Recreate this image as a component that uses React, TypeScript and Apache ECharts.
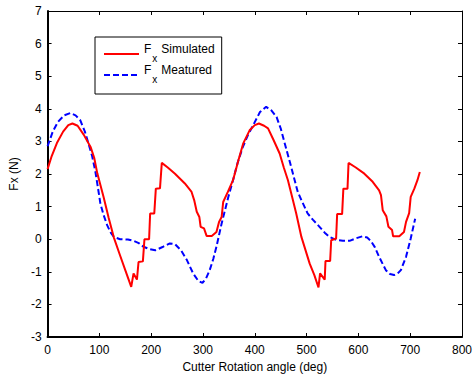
import React, { useEffect, useRef } from "react";
import * as echarts from "echarts";

const simX = [0, 8, 18, 30, 40, 48, 58, 70, 83, 90, 96, 108, 118, 128, 140, 150, 161.5, 166, 172.5, 175.6, 184, 187, 196, 198, 206, 209, 217, 220.5, 232, 246, 265, 278, 283, 288, 293, 295.5, 302, 307, 317, 326, 331, 336, 339, 348, 358, 368, 377.5, 390, 400, 408, 418, 425.6, 436, 448, 456, 464, 472, 480, 490, 506, 515, 523, 526, 535, 536.5, 545.5, 547.5, 557, 559, 568.6, 571, 579, 581, 595, 611.5, 627.6, 640, 643.6, 647, 654, 658, 665, 667, 679, 688, 692, 698, 701, 708, 714, 718.6];
const simY = [2.15, 2.55, 2.95, 3.3, 3.5, 3.55, 3.48, 3.2, 2.83, 2.5, 2.02, 1.3, 0.65, 0.05, -0.5, -0.95, -1.46, -1.05, -1.24, -0.7, -0.68, 0, 0, 0.79, 0.79, 1.55, 1.56, 2.34, 2.2, 2.01, 1.71, 1.45, 1.2, 0.84, 0.68, 0.38, 0.33, 0.1, 0.1, 0.22, 0.53, 0.68, 1.14, 1.45, 1.81, 2.4, 2.93, 3.34, 3.5, 3.55, 3.48, 3.4, 3.05, 2.63, 2.2, 1.81, 1.3, 0.79, 0.07, -0.75, -1.1, -1.48, -1.05, -1.24, -0.67, -0.67, -0.03, 0.02, 0.77, 0.77, 1.55, 1.55, 2.34, 2.2, 2.01, 1.76, 1.5, 1.35, 0.89, 0.7, 0.38, 0.28, 0.09, 0.09, 0.22, 0.53, 0.8, 1.3, 1.55, 1.81, 2.06];

const measX = [0, 10, 20, 32, 44, 54, 63, 72, 79, 86, 92, 97, 102, 108, 115, 122, 128, 140, 155, 166, 176, 185, 196, 208, 222, 236, 246, 258, 269, 281, 291, 299, 306, 313, 320, 326, 336, 349, 358, 367, 377, 387, 397, 410, 422, 432, 442, 450, 458, 468, 477, 483, 490, 502, 512, 525, 535, 544, 557, 570, 583, 596, 608, 617, 624, 632, 640, 653, 661, 669, 676, 682, 692, 701, 709.6];
const measY = [2.85, 3.3, 3.6, 3.8, 3.87, 3.8, 3.65, 3.3, 2.93, 2.55, 2.1, 1.6, 1.09, 0.75, 0.43, 0.2, 0.07, 0.0, -0.01, -0.05, -0.12, -0.23, -0.3, -0.34, -0.24, -0.13, -0.15, -0.35, -0.64, -1.05, -1.28, -1.34, -1.2, -0.95, -0.6, -0.23, 0.48, 1.3, 1.81, 2.35, 2.83, 3.2, 3.5, 3.9, 4.06, 3.95, 3.75, 3.4, 2.93, 2.35, 1.81, 1.45, 1.2, 0.79, 0.6, 0.38, 0.2, 0.07, -0.02, -0.05, -0.05, 0.03, 0.09, 0.05, -0.05, -0.25, -0.54, -0.95, -1.07, -1.1, -1.05, -0.95, -0.54, 0.02, 0.63];

const seriesNames = ["Fx Simulated", "Fx Meatured"];
const xTitle = "Cutter Rotation angle (deg)";
const yTitle = "Fx (N)";

const FONT = "'Liberation Sans', Arial, sans-serif";

export default function App() {
  const ref = useRef<HTMLDivElement>(null);
  useEffect(() => {
    if (!ref.current) return;
    const chart = echarts.init(ref.current, undefined, { renderer: "svg" });
    const pairs = (xs: number[], ys: number[]) => xs.map((x, i) => [x, ys[i]]);
    const axisCommon = {
      type: "value" as const,
      splitLine: { show: false },
      axisTick: { show: true, inside: true, length: 4, lineStyle: { color: "#000", width: 1 } },
      axisLabel: { color: "#000", fontSize: 12, fontFamily: FONT },
    };
    chart.setOption({
      animation: false,
      backgroundColor: "#fff",
      grid: { left: 47, right: 12, top: 11, bottom: 43, containLabel: false },
      legend: {
        data: seriesNames,
        orient: "vertical",
        left: 95,
        top: 37,
        padding: [6, 7, 10, 8],
        itemGap: 1,
        itemWidth: 35,
        itemHeight: 14,
        borderColor: "#000",
        borderWidth: 1,
        borderRadius: 0,
        backgroundColor: "#fff",
        itemStyle: { opacity: 0, borderWidth: 0 },
        formatter: (name: string) =>
          "{f|F}{s|x}{t|" + name.replace(/^Fx /, "") + "}",
        textStyle: {
          color: "#000",
          fontFamily: FONT,
          fontSize: 12,
          rich: {
            f: { fontSize: 12, lineHeight: 22, verticalAlign: "top", fontFamily: FONT, color: "#000" },
            s: { fontSize: 10, lineHeight: 10, verticalAlign: "top", padding: [10, 0, 0, 1], fontFamily: FONT, color: "#000" },
            t: { fontSize: 12, lineHeight: 22, verticalAlign: "top", padding: [0, 0, 0, 4], fontFamily: FONT, color: "#000" },
          },
        },
      },
      xAxis: [
        {
          ...axisCommon,
          min: 0,
          max: 800,
          interval: 100,
          position: "bottom",
          axisLine: { show: true, onZero: false, lineStyle: { color: "#000", width: 2 } },
          axisLabel: { ...axisCommon.axisLabel, margin: 7 },
          name: xTitle,
          nameLocation: "middle",
          nameGap: 22,
          nameTextStyle: { color: "#000", fontSize: 12, fontFamily: FONT },
        },
        {
          ...axisCommon,
          min: 0,
          max: 800,
          interval: 100,
          position: "top",
          axisLine: { show: true, onZero: false, lineStyle: { color: "#000", width: 1 } },
          axisLabel: { show: false },
        },
      ],
      yAxis: [
        {
          ...axisCommon,
          min: -3,
          max: 7,
          interval: 1,
          position: "left",
          axisLine: { show: true, onZero: false, lineStyle: { color: "#000", width: 2 } },
          axisLabel: { ...axisCommon.axisLabel, margin: 6 },
          name: yTitle,
          nameLocation: "middle",
          nameGap: 19,
          nameRotate: 90,
          nameTextStyle: { color: "#000", fontSize: 12, fontFamily: FONT },
        },
        {
          ...axisCommon,
          min: -3,
          max: 7,
          interval: 1,
          position: "right",
          axisLine: { show: true, onZero: false, lineStyle: { color: "#000", width: 1 } },
          axisLabel: { show: false },
        },
      ],
      series: [
        {
          name: seriesNames[0],
          type: "line",
          data: pairs(simX, simY),
          symbol: "none",
          smooth: false,
          lineStyle: { color: "#ff0000", width: 2 },
          itemStyle: { color: "#ff0000" },
          z: 3,
        },
        {
          name: seriesNames[1],
          type: "line",
          data: pairs(measX, measY),
          symbol: "none",
          smooth: false,
          lineStyle: { color: "#0000ff", width: 2, type: [6, 3] },
          itemStyle: { color: "#0000ff" },
          z: 2,
        },
      ],
    });
    return () => chart.dispose();
  }, []);
  return <div ref={ref} style={{ width: 475, height: 380, position: "absolute", left: 0, top: 0 }} />;
}
